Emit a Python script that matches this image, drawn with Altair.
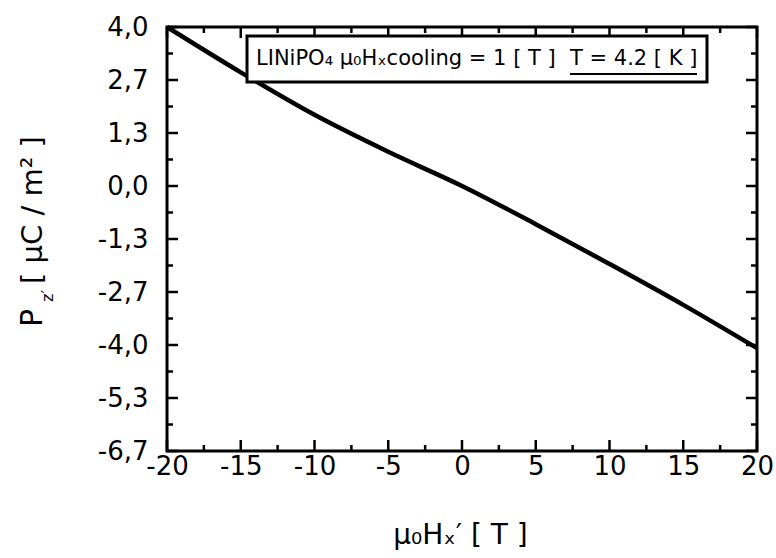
import altair as alt
import pandas as pd

# data
field_T = [-20, -15, -10, -5, 0, 5, 10, 15, 20]
polarization = [4.0, 2.86, 1.79, 0.86, 0.0, -0.96, -1.96, -2.99, -4.08]

x_major = [-20, -15, -10, -5, 0, 5, 10, 15, 20]
x_minor = [-17.5, -12.5, -7.5, -2.5, 2.5, 7.5, 12.5, 17.5]
y_major = [4.0, 8/3, 4/3, 0.0, -4/3, -8/3, -4.0, -16/3, -20/3]
y_minor = [10/3, 2.0, 2/3, -2/3, -2.0, -10/3, -14/3, -6.0]

legend_part1 = "LINiPO₄ μ₀Hₓcooling = 1 [ T ]"
legend_part2 = "T = 4.2 [ K ]"

W, H = 590, 424
FONT = "DejaVu Sans"

xscale = alt.Scale(domain=[-20, 20], nice=False, zero=False)
yscale = alt.Scale(domain=[-20/3, 4.0], nice=False, zero=False)

xaxis = alt.Axis(values=x_major, ticks=False, domain=False, grid=False,
                 labelFont=FONT, labelFontSize=26, labelColor="black",
                 labelPadding=2, labelFlush=False,
                 labelExpr="replace(format(datum.value, 'd'), '−', '-')",
                 title="μ₀Hₓ′ [ T ]", titleFont=FONT, titleFontSize=28,
                 titleFontWeight="normal", titleColor="black",
                 titleX=293, titleY=84, titleBaseline="middle")
yaxis = alt.Axis(values=y_major, ticks=False, domain=False, grid=False,
                 labelFont=FONT, labelFontSize=26, labelColor="black",
                 labelPadding=19, labelFlush=False,
                 labelExpr="replace(replace(format(datum.value, '.1f'), '.', ','), '−', '-')",
                 title=None)

df = pd.DataFrame({"x": field_T, "y": polarization})

line = alt.Chart(df).mark_line(color="black", strokeWidth=4.5, interpolate="monotone").encode(
    x=alt.X("x:Q", scale=xscale, axis=xaxis),
    y=alt.Y("y:Q", scale=yscale, axis=yaxis),
)

def xticks(vals, length, top):
    d = pd.DataFrame({"x": vals})
    if top:
        y0, y1 = 0, length
    else:
        y0, y1 = H, H - length
    return alt.Chart(d).mark_rule(color="black", strokeWidth=2.5).encode(
        x=alt.X("x:Q", scale=xscale, axis=xaxis),
        y=alt.value(y0), y2=alt.value(y1))

def yticks(vals, length, right):
    d = pd.DataFrame({"y": vals})
    if right:
        x0, x1 = W, W - length
    else:
        x0, x1 = 0, length
    return alt.Chart(d).mark_rule(color="black", strokeWidth=2.5).encode(
        y=alt.Y("y:Q", scale=yscale, axis=yaxis),
        x=alt.value(x0), x2=alt.value(x1))

ticks = [
    xticks(x_major, 11, False), xticks(x_minor, 6, False),
    xticks(x_major, 11, True), xticks(x_minor, 6, True),
    yticks(y_major, 11, False), yticks(y_minor, 6, False),
    yticks(y_major, 11, True), yticks(y_minor, 6, True),
]

one = pd.DataFrame({"t": [""]})

box = alt.Chart(one).mark_rect(fill="white", stroke="black", strokeWidth=3).encode(
    x=alt.value(80), x2=alt.value(540), y=alt.value(9), y2=alt.value(55))

txt1 = alt.Chart(pd.DataFrame({"t": [legend_part1]})).mark_text(
    font=FONT, fontSize=21, align="left", baseline="middle", color="black").encode(
    text="t:N", x=alt.value(89), y=alt.value(32))
txt2 = alt.Chart(pd.DataFrame({"t": [legend_part2]})).mark_text(
    font=FONT, fontSize=21, align="left", baseline="middle", color="black").encode(
    text="t:N", x=alt.value(403), y=alt.value(32))
underline = alt.Chart(one).mark_rule(color="black", strokeWidth=2).encode(
    x=alt.value(403), x2=alt.value(530), y=alt.value(47))

# y title pieces (rotated)
ytitle_P = alt.Chart(pd.DataFrame({"t": ["P"]})).mark_text(
    font=FONT, fontSize=30, angle=270, align="center", baseline="middle", color="black").encode(
    text="t:N", x=alt.value(33 - 167), y=alt.value(318 - 27))
ytitle_sub = alt.Chart(pd.DataFrame({"t": ["z′"]})).mark_text(
    font=FONT, fontSize=16, angle=270, align="center", baseline="middle", color="black").encode(
    text="t:N", x=alt.value(48 - 167), y=alt.value(296 - 27))
ytitle_rest = alt.Chart(pd.DataFrame({"t": ["[ μC / m² ]"]})).mark_text(
    font=FONT, fontSize=29, angle=270, align="center", baseline="middle", color="black").encode(
    text="t:N", x=alt.value(33 - 167), y=alt.value(210 - 27))

chart = alt.layer(line, *ticks, box, txt1, txt2, underline,
                  ytitle_P, ytitle_sub, ytitle_rest).properties(
    width=W, height=H,
    autosize=alt.AutoSizeParams(type="none"),
    padding={"left": 167, "top": 27, "right": 19, "bottom": 107},
    background="white",
).configure_view(stroke="black", strokeWidth=3)

chart.save("out.html", embed_options={"renderer": "svg", "actions": False})
